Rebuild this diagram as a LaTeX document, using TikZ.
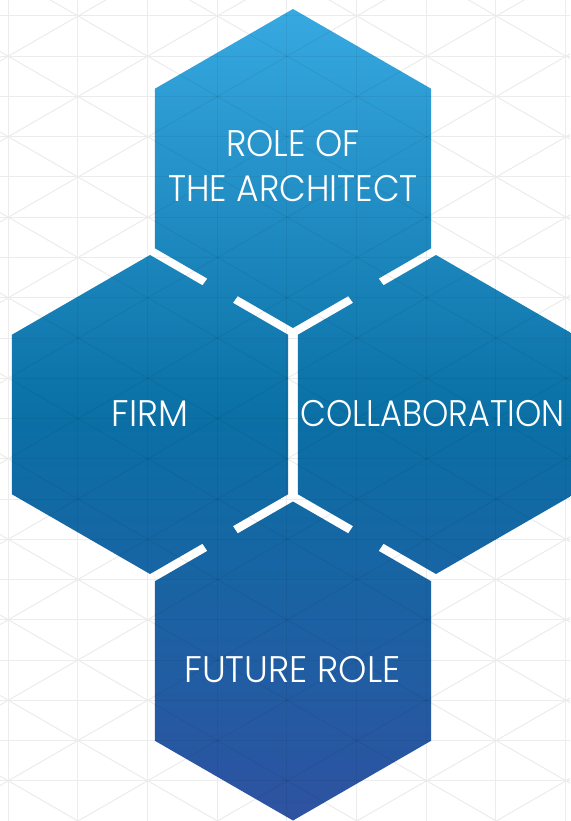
\documentclass[tikz,border=0pt]{standalone}
\usepackage{fontspec}
\newfontfamily\hexfont{Poppins Light}
\usetikzlibrary{calc}
\definecolor{hexTop}{HTML}{37A9E1}
\definecolor{hexMid}{HTML}{0A70A5}
\definecolor{hexBot}{HTML}{2E52A1}
\definecolor{gridGray}{HTML}{ECECEC}
\tikzset{
  gridline/.style={draw=gridGray, line width=1pt},
  gridover/.style={draw=black, opacity=0.05, line width=1pt},
  hexlabel/.style={text=white, inner sep=0pt, font=\hexfont\fontsize{37}{45}\selectfont, align=center},
}
\newcommand\myGridLines[1]{%
  \foreach \k in {0,...,8} {\draw[#1] ({8+69.71*\k},-5) -- ({8+69.71*\k},830);}
  \foreach \n in {-1,...,21} {\draw[#1] (-5,{16+40.25*\n}) -- (575,{16+40.25*\n});}
  \foreach \n in {-5,...,14} {
    \draw[#1] (-10,{16-88*0.57735+80.5*\n}) -- (580,{16+502*0.57735+80.5*\n});
    \draw[#1] (-10,{16+88*0.57735+80.5*\n}) -- (580,{16-502*0.57735+80.5*\n});
  }}
\newcommand\myHexOutline{%
  (T-t)--(T-ur)--(T-lr)--(T-b)--(T-ll)--(T-ul)--cycle
  (L-t)--(L-ur)--(L-lr)--(L-b)--(L-ll)--(L-ul)--cycle
  (R-t)--(R-ur)--(R-lr)--(R-b)--(R-ll)--(R-ul)--cycle
  (B-t)--(B-ur)--(B-lr)--(B-b)--(B-ll)--(B-ul)--cycle
  (tl-A1)--(tl-A2)--(tl-B2)--(tl-B1)--cycle
  (tr-A2)--(tr-A1)--(tr-B1)--(tr-B2)--cycle
  (bl-A1)--(bl-A2)--(bl-B2)--(bl-B1)--cycle
  (br-A2)--(br-A1)--(br-B1)--(br-B2)--cycle}
\begin{document}
\begin{tikzpicture}[x=1pt,y=-1pt]
\useasboundingbox (0,0) rectangle (570,821);
\fill[white] (0,0) rectangle (570,821);
\begin{scope}
  \clip (0,0) rectangle (570,821);
  \myGridLines{gridline}
\end{scope}
% hexagon vertices
\foreach \h/\cx/\cy in {T/293/168.5, L/150/414.5, R/436/414.5, B/293/661}{
  \coordinate (\h-c) at (\cx,\cy);
  \coordinate (\h-t) at (\cx,{\cy-159.5});
  \coordinate (\h-ur) at ({\cx+138.13},{\cy-79.75});
  \coordinate (\h-lr) at ({\cx+138.13},{\cy+79.75});
  \coordinate (\h-b) at (\cx,{\cy+159.5});
  \coordinate (\h-ll) at ({\cx-138.13},{\cy+79.75});
  \coordinate (\h-ul) at ({\cx-138.13},{\cy-79.75});
}
% bridges across the gaps
\foreach \g/\ao/\ai/\bo/\bi in {tl/T-ll/T-b/L-t/L-ur, tr/T-lr/T-b/R-t/R-ul, bl/L-b/L-lr/B-ul/B-t, br/R-b/R-ll/B-ur/B-t}{
  \coordinate (\g-a1) at ($(\ao)!0.38!(\ai)$);
  \coordinate (\g-a2) at ($(\ao)!0.60!(\ai)$);
  \coordinate (\g-b1) at ($(\bo)!0.38!(\bi)$);
  \coordinate (\g-b2) at ($(\bo)!0.60!(\bi)$);
  \coordinate (\g-A1) at ($(\g-a1)!-0.3!(\g-b1)$);
  \coordinate (\g-A2) at ($(\g-a2)!-0.3!(\g-b2)$);
  \coordinate (\g-B1) at ($(\g-b1)!-0.3!(\g-a1)$);
  \coordinate (\g-B2) at ($(\g-b2)!-0.3!(\g-a2)$);
}
\shade[top color=hexTop, bottom color=hexBot, middle color=hexMid] \myHexOutline;
\begin{scope}
  \clip \myHexOutline;
  \myGridLines{gridover}
\end{scope}
\node[hexlabel, anchor=north] (role) at (293,130) {\scalebox{0.935}[1]{ROLE OF}\\\scalebox{0.935}[1]{THE ARCHITECT}};
\node[hexlabel, anchor=base] (firm) at (150,426) {\scalebox{0.96}[1]{FIRM}};
\node[hexlabel, anchor=base] (collab) at (432.5,426) {\scalebox{0.905}[1]{COLLABORATION}};
\node[hexlabel, anchor=base] (future) at (292.5,682) {\scalebox{0.975}[1]{FUTURE ROLE}};
\end{tikzpicture}
\end{document}
